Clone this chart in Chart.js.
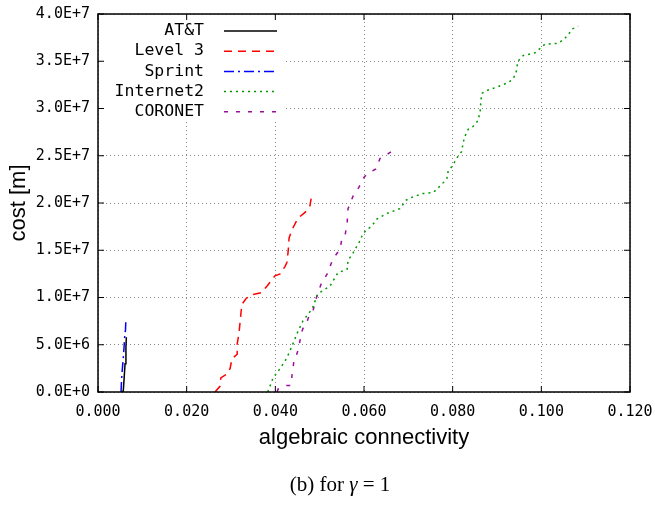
<!DOCTYPE html>
<html>
<head>
<meta charset="utf-8">
<script src="https://cdn.jsdelivr.net/npm/chart.js@4/dist/chart.umd.min.js"></script>
<style>
  html, body { margin: 0; padding: 0; background: #fff; }
  #wrap { width: 655px; height: 506px; }
</style>
</head>
<body>
<div id="wrap"><canvas id="chart" width="655" height="506"></canvas></div>
<script>
// Axis ticks
const xTicks = [0, 0.02, 0.04, 0.06, 0.08, 0.1, 0.12];
const yTicks = [0, 5e6, 1e7, 1.5e7, 2e7, 2.5e7, 3e7, 3.5e7, 4e7];

// Series: algebraic connectivity (x) vs cost (y)
const attX = [0.0053, 0.0057, 0.0059, 0.0061, 0.0063, 0.0064];
const attY = [0, 0.1e6, 1.5e6, 3.0e6, 4.7e6, 5.8e6];

const level3X = [0.0264, 0.0275, 0.0277, 0.0291, 0.0298, 0.0302, 0.0314, 0.0314, 0.0318, 0.0323, 0.0325, 0.0334, 0.0347, 0.0368, 0.0381, 0.0393, 0.0399, 0.0411, 0.0422, 0.0426, 0.0429, 0.0431, 0.0438, 0.0451, 0.0467, 0.0478, 0.0483];
const level3Y = [0, 0.6e6, 1.5e6, 1.9e6, 2.5e6, 3.5e6, 4.0e6, 5.1e6, 6.2e6, 8.6e6, 9.3e6, 9.9e6, 10.3e6, 10.5e6, 11.2e6, 11.9e6, 12.3e6, 12.5e6, 13.3e6, 13.7e6, 14.9e6, 16.3e6, 17.2e6, 18.4e6, 19.0e6, 19.7e6, 21.1e6];

const sprintX = [0.0052, 0.0053, 0.0055, 0.0057, 0.0059, 0.0060, 0.0062, 0.0063];
const sprintY = [0, 1.2e6, 2.5e6, 3.6e6, 4.9e6, 5.7e6, 6.6e6, 7.8e6];

const internet2X = [0.0383, 0.0395, 0.0411, 0.0426, 0.0438, 0.0449, 0.0462, 0.0483, 0.0496, 0.0523, 0.0541, 0.0562, 0.0564, 0.0575, 0.0591, 0.0598, 0.0618, 0.0629, 0.0652, 0.0681, 0.0695, 0.0708, 0.0733, 0.0756, 0.0776, 0.0787, 0.0790, 0.0799, 0.0810, 0.0821, 0.0823, 0.0828, 0.0835, 0.0846, 0.0857, 0.0862, 0.0864, 0.0866, 0.0877, 0.0896, 0.0923, 0.0936, 0.0943, 0.0947, 0.0959, 0.0986, 0.1008, 0.1038, 0.1053, 0.1062, 0.1069, 0.1083];
const internet2Y = [0, 1.5e6, 2.5e6, 3.6e6, 4.9e6, 6.2e6, 7.5e6, 8.8e6, 10.4e6, 11.2e6, 12.6e6, 13.0e6, 13.9e6, 14.7e6, 16.0e6, 16.8e6, 17.6e6, 18.3e6, 18.9e6, 19.4e6, 20.3e6, 20.6e6, 21.0e6, 21.1e6, 22.0e6, 22.6e6, 23.4e6, 23.9e6, 24.8e6, 25.5e6, 26.3e6, 27.1e6, 27.8e6, 28.1e6, 28.7e6, 29.7e6, 31.0e6, 31.6e6, 31.9e6, 32.2e6, 32.7e6, 33.1e6, 33.8e6, 35.0e6, 35.6e6, 35.9e6, 36.8e6, 36.9e6, 37.4e6, 37.9e6, 38.4e6, 38.7e6];

const coronetX = [0.0404, 0.0406, 0.0426, 0.0435, 0.0438, 0.0442, 0.0447, 0.0453, 0.0458, 0.0462, 0.0471, 0.0474, 0.0485, 0.0492, 0.0503, 0.0517, 0.0530, 0.0546, 0.0550, 0.0557, 0.0562, 0.0564, 0.0575, 0.0589, 0.0598, 0.0607, 0.0627, 0.0636, 0.0645, 0.0663, 0.0670];
const coronetY = [0, 0.3e6, 0.7e6, 0.7e6, 1.9e6, 3.3e6, 3.8e6, 4.7e6, 6.1e6, 6.7e6, 7.3e6, 7.8e6, 8.6e6, 9.9e6, 11.4e6, 12.5e6, 14.1e6, 15.1e6, 16.2e6, 16.5e6, 17.9e6, 19.4e6, 20.7e6, 21.7e6, 22.6e6, 23.1e6, 23.6e6, 24.7e6, 24.9e6, 25.5e6, 25.7e6];

const seriesNames = ["AT&T", "Level 3", "Sprint", "Internet2", "CORONET"];
const seriesColors = ["#000000", "#ff0000", "#0000ff", "#009a00", "#9b0d9b"];
const seriesDashes = [[], [8, 6], [10, 4, 2, 4], [2, 4], [4, 8]];

// Helpers
function pairs(xs, ys) {
    return xs.map((x, i) => ({ x: x, y: ys[i] }));
}

const seriesData = [
    pairs(attX, attY),
    pairs(level3X, level3Y),
    pairs(sprintX, sprintY),
    pairs(internet2X, internet2Y),
    pairs(coronetX, coronetY)
];

const monoFont = "'DejaVu Sans Mono', monospace";
const sansFont = "'Liberation Sans', Arial, sans-serif";
const serifFont = "'Liberation Serif', 'Times New Roman', serif";

// Frame, inner ticks, legend, x title and caption
const gnuplotLook = {
    id: "gnuplotLook",
    afterDraw(chart) {
        const ctx = chart.ctx;
        const a = chart.chartArea;
        const xs = chart.scales.x;
        const ys = chart.scales.y;
        ctx.save();

        // Legend box
        ctx.fillStyle = "#fff";
        ctx.fillRect(a.left + 1, a.top + 1, 187, 107);
        ctx.font = "16.5px " + monoFont;
        ctx.textAlign = "right";
        ctx.textBaseline = "middle";
        seriesNames.forEach((name, i) => {
            const y = a.top + 17 + i * 20.2;
            ctx.fillStyle = "#000";
            ctx.fillText(name, 204, y);
            ctx.strokeStyle = seriesColors[i];
            ctx.lineWidth = 1.5;
            ctx.setLineDash(seriesDashes[i]);
            ctx.beginPath();
            ctx.moveTo(224, y);
            ctx.lineTo(277, y);
            ctx.stroke();
        });
        ctx.setLineDash([]);

        // Frame
        ctx.strokeStyle = "#000";
        ctx.lineWidth = 1.5;
        ctx.strokeRect(a.left, a.top, a.right - a.left, a.bottom - a.top);

        // Inner ticks
        ctx.lineWidth = 1;
        ctx.beginPath();
        xTicks.forEach(v => {
            const px = xs.getPixelForValue(v);
            ctx.moveTo(px, a.bottom); ctx.lineTo(px, a.bottom - 6);
            ctx.moveTo(px, a.top); ctx.lineTo(px, a.top + 6);
        });
        yTicks.forEach(v => {
            const py = ys.getPixelForValue(v);
            ctx.moveTo(a.left, py); ctx.lineTo(a.left + 6, py);
            ctx.moveTo(a.right, py); ctx.lineTo(a.right - 6, py);
        });
        ctx.stroke();

        // X axis title
        ctx.fillStyle = "#000";
        ctx.textAlign = "center";
        ctx.font = "22px " + sansFont;
        ctx.fillText("algebraic connectivity", (a.left + a.right) / 2, 438);

        // Caption
        const size = 21;
        const p1 = "(b) for ";
        const p3 = " = 1";
        ctx.font = size + "px " + serifFont;
        const w1 = ctx.measureText(p1).width;
        const w3 = ctx.measureText(p3).width;
        ctx.font = "italic " + size + "px " + serifFont;
        const w2 = ctx.measureText("γ").width;
        const cx = 340 - (w1 + w2 + w3) / 2;
        ctx.textAlign = "left";
        ctx.font = size + "px " + serifFont;
        ctx.fillText(p1, cx, 485);
        ctx.font = "italic " + size + "px " + serifFont;
        ctx.fillText("γ", cx + w1, 485);
        ctx.font = size + "px " + serifFont;
        ctx.fillText(p3, cx + w1 + w2, 485);

        ctx.restore();
    }
};

const canvas = document.getElementById("chart").getContext("2d");
const chart = new Chart(canvas, {
    type: "scatter",
    data: {
        datasets: seriesData.map((d, i) => ({
            label: seriesNames[i],
            data: d,
            showLine: true,
            borderColor: seriesColors[i],
            backgroundColor: seriesColors[i],
            borderDash: seriesDashes[i],
            borderWidth: 1.5,
            pointRadius: 0,
            tension: 0
        }))
    },
    options: {
        responsive: false,
        animation: false,
        layout: { padding: { top: 14, right: 25, left: 0, bottom: 0 } },
        plugins: {
            legend: { display: false },
            tooltip: { enabled: false }
        },
        scales: {
            x: {
                type: "linear",
                min: 0,
                max: 0.12,
                afterFit(scale) {
                    scale.height = 114;
                    scale.paddingLeft = 0;
                    scale.paddingRight = 0;
                },
                afterBuildTicks(scale) { scale.ticks = xTicks.map(v => ({ value: v })); },
                ticks: {
                    padding: 11,
                    color: "#000",
                    font: { family: monoFont, size: 15 },
                    callback: v => v.toFixed(3)
                },
                grid: {
                    color: "#888",
                    drawTicks: false,
                    lineWidth: 1
                },
                border: { display: false, dash: [1, 3] }
            },
            y: {
                type: "linear",
                min: 0,
                max: 4e7,
                afterFit(scale) {
                    scale.width = 98;
                    scale.paddingTop = 0;
                    scale.paddingBottom = 0;
                },
                afterBuildTicks(scale) { scale.ticks = yTicks.map(v => ({ value: v })); },
                title: {
                    display: true,
                    text: "cost [m]",
                    color: "#000",
                    font: { family: sansFont, size: 22 },
                    padding: { top: 6, bottom: 0 }
                },
                ticks: {
                    padding: 8,
                    color: "#000",
                    font: { family: monoFont, size: 15 },
                    callback: v => v.toExponential(1).toUpperCase()
                },
                grid: {
                    color: "#888",
                    drawTicks: false,
                    lineWidth: 1
                },
                border: { display: false, dash: [1, 3] }
            }
        }
    },
    plugins: [gnuplotLook]
});
</script>
</body>
</html>
